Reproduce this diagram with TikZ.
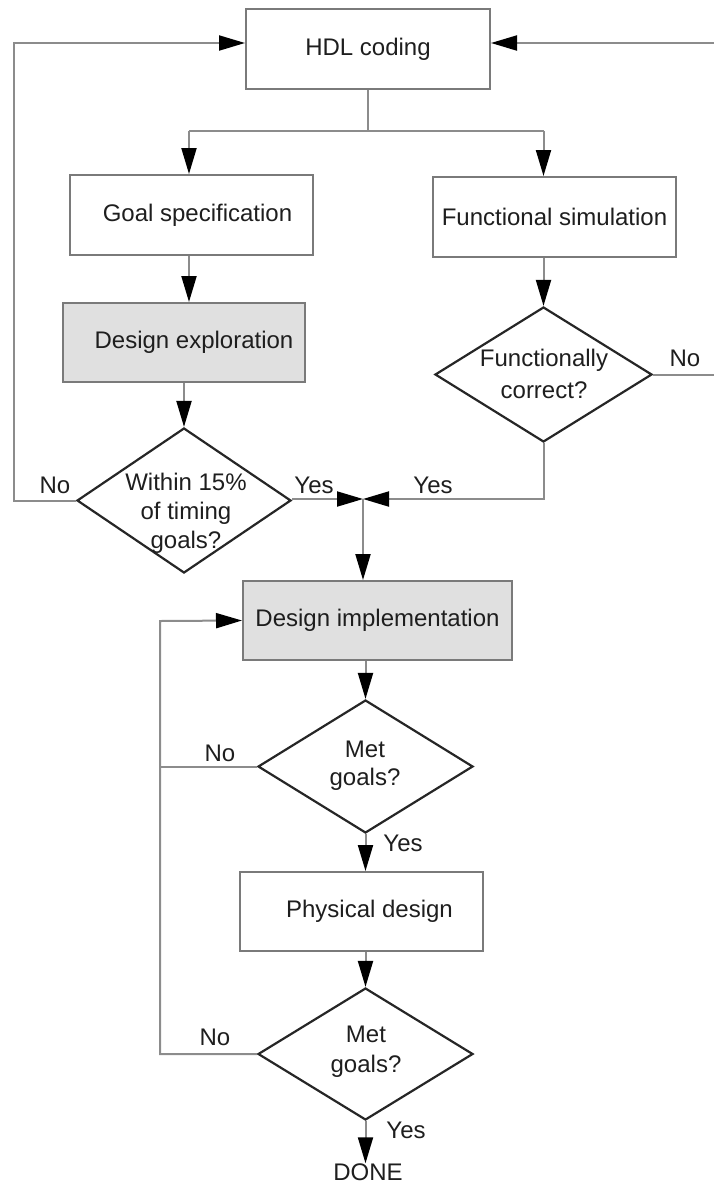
\documentclass[tikz,border=0pt]{standalone}
\usepackage{fontspec}
\setmainfont{Liberation Sans}
\usetikzlibrary{shapes.geometric,arrows.meta}
\definecolor{linegray}{HTML}{8C8C8C}
\definecolor{boxgray}{HTML}{7A7A7A}
\definecolor{fillgray}{HTML}{E0E0E0}
\definecolor{txt}{HTML}{1E1E1E}
\tikzset{
  every node/.style={font=\fontsize{24}{29}\selectfont, text=txt},
  procbox/.style={draw=boxgray, line width=2pt, rectangle, inner sep=0pt},
  shadebox/.style={procbox, fill=fillgray},
  decide/.style={draw=black!85, line width=2.2pt, diamond, inner sep=0pt},
  conn/.style={draw=linegray, line width=2pt},
  arr/.style={conn, -{Triangle[length=26pt,width=15pt,color=black]}},
  lbl/.style={inner sep=0pt, anchor=base},
  dtext/.style={align=center, inner sep=0pt}
}
\begin{document}
\begin{tikzpicture}[x=1pt,y=-1pt]
\useasboundingbox (0,0) rectangle (714,1184);
\clip (0,0) rectangle (714,1184);
% boxes
\node[procbox, minimum width=244pt, minimum height=80pt] (hdl) at (368,49) {HDL coding};
\node[procbox, minimum width=243pt, minimum height=80pt] (goal) at (191.5,215) {\hspace*{12pt}Goal specification};
\node[procbox, minimum width=243pt, minimum height=80pt] (func) at (554.5,217) {Functional simulation};
\node[shadebox, minimum width=242pt, minimum height=79pt] (explo) at (184,342.5) {\hspace*{20pt}Design exploration};
\node[shadebox, minimum width=269pt, minimum height=79pt] (impl) at (377.5,620.5) {Design implementation};
\node[procbox, minimum width=243pt, minimum height=79pt] (phys) at (361.5,911.5) {\hspace*{16pt}Physical design};
% diamonds
\node[decide, minimum width=214pt, minimum height=145pt] (within) at (184,500.5) {};
\node[decide, minimum width=217pt, minimum height=135pt] (fc) at (543.5,374.5) {};
\node[decide, minimum width=215pt, minimum height=133pt] (met1) at (365.5,766.5) {};
\node[decide, minimum width=215pt, minimum height=132pt] (met2) at (365.5,1054) {};
% diamond texts
\node[dtext, font=\fontsize{24}{29}\selectfont] (withint) at (186,513) {Within 15\%\\of timing\\goals?};
\node[dtext, font=\fontsize{24}{32}\selectfont] (fct) at (544,374) {Functionally\\correct?};
\node[dtext, font=\fontsize{24}{28}\selectfont] (met1t) at (365,766) {Met\\goals?};
\node[dtext, font=\fontsize{24}{30}\selectfont] (met2t) at (366,1052) {Met\\goals?};
\node[inner sep=0pt] (done) at (368,1172) {DONE};
% coordinates
\coordinate (split) at (368,131);
\coordinate (J) at (363,499);
\coordinate (lx) at (14,43);
\coordinate (rx) at (730,43);
\coordinate (lp) at (160,621);
% connectors
\draw[conn] (hdl.south) -- (split);
\draw[conn] (split -| goal.north) ++(-2.5,0) -- (split -| fc.north);
\draw[arr] (split) ++(-179,0) -- ([xshift=-2.5pt]goal.north);
\draw[arr] (split -| fc.north) -- (func.north -| fc.north);
\draw[arr] ([xshift=-2.5pt]goal.south) -- ([xshift=-2.5pt]goal.south |- explo.north);
\draw[arr] (explo.south) -- (within.north);
\draw[arr] (func.south -| fc.north) -- (fc.north);
\draw[arr] (within.west) -| (lx) -- (lx -| hdl.west);
\draw[arr] (fc.east) -| (rx) -- (rx -| hdl.east);
\draw[arr] (within.east |- J) -- (J);
\draw[arr] (fc.south) |- (J);
\draw[arr] (J) -- (J |- impl.north);
\draw[arr] (impl.south -| met1.north) -- (met1.north);
\draw[conn] (met1.west) -- (met1.west -| lp);
\draw[arr] (met2.west) -| (lp) -- (impl.west);
\draw[arr] (met1.south) -- (met1.south |- phys.north);
\draw[arr] (phys.south -| met2.north) -- (met2.north);
\draw[arr] (met2.south) -- (done.north -| met2.south);
% branch labels
\node[lbl] (n1) at (55,493) {No};
\node[lbl] (y1) at (314,493) {Yes};
\node[lbl] (y2) at (433,493) {Yes};
\node[lbl] (n2) at (685,366) {No};
\node[lbl] (n3) at (220,761) {No};
\node[lbl] (y3) at (403,851) {Yes};
\node[lbl] (n4) at (215,1045) {No};
\node[lbl] (y4) at (406,1138) {Yes};
\end{tikzpicture}
\end{document}
